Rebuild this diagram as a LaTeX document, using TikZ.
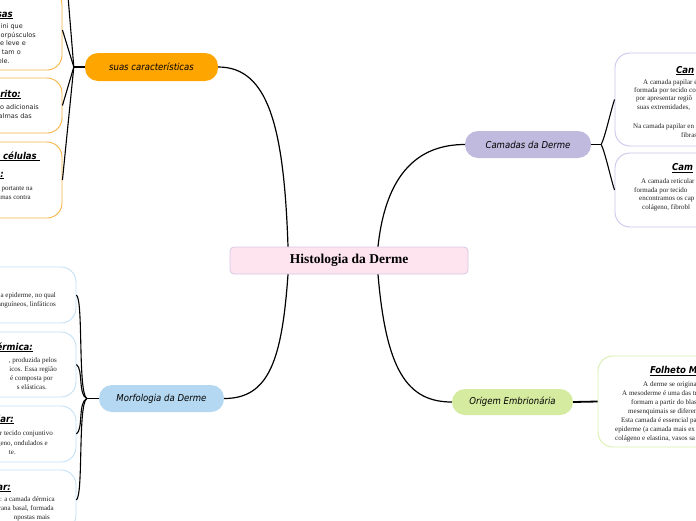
\documentclass[tikz,border=0pt]{standalone}
\usepackage{fontspec}
\setmainfont{Liberation Serif}
\newfontfamily\leafsans{DejaVu Sans}
\newfontfamily\handfont{DejaVu Sans Condensed}
\definecolor{orangeB}{HTML}{FFA500}
\definecolor{orangeL}{HTML}{F6B443}
\definecolor{lavB}{HTML}{C1BADF}
\definecolor{lavL}{HTML}{CCC6EC}
\definecolor{blueB}{HTML}{B4D8F1}
\definecolor{blueL}{HTML}{C3E1F7}
\definecolor{greenB}{HTML}{D5ECA0}
\definecolor{greenL}{HTML}{D9EFAE}
\definecolor{pinkF}{HTML}{FDE4EE}
\definecolor{pinkD}{HTML}{D7C7E5}
\definecolor{txt}{HTML}{222222}
\begin{document}
\begin{tikzpicture}[x=1pt,y=-1pt,
  pill/.style={rounded corners=13pt, inner sep=0, font=\handfont\itshape\fontsize{9.5}{10}\selectfont},
  centerbox/.style={rounded corners=4pt, fill=pinkF, draw=pinkD, line width=0.8pt, inner sep=0, minimum width=238pt, minimum height=27pt},
  leaf/.style={rounded corners=15pt, fill=white, line width=0.9pt, inner sep=0},
  mainline/.style={line width=1.2pt, black},
  stub/.style={line width=1.8pt, black},
  subline/.style={line width=1.1pt, black},
  tsans/.style={font=\leafsans\fontsize{6.5}{8}\selectfont, inner sep=0, text=txt},
  tserif/.style={font=\fontsize{7}{9}\selectfont, inner sep=0, text=txt},
  ttitle/.style={font=\handfont\bfseries\itshape\fontsize{9.5}{11}\selectfont, inner sep=0, text=black}
]
\useasboundingbox (0,0) rectangle (696,520);
\fill[white] (0,0) rectangle (696,520);
\clip (0,0) rectangle (696,520);

% ---------- leaves ----------
\node[leaf, draw=orangeL, minimum width=122pt, minimum height=80pt] (tl1) at (1,30) {};
\node[leaf, draw=orangeL, minimum width=122pt, minimum height=55pt] (tl2) at (1,105.5) {};
\node[leaf, draw=orangeL, minimum width=122pt, minimum height=76pt] (tl3) at (1,180) {};
\node[leaf, draw=lavL, minimum width=165pt, minimum height=93pt] (r1) at (697.5,99.5) {};
\node[leaf, draw=lavL, minimum width=165pt, minimum height=74pt] (r2) at (697.5,190) {};
\node[leaf, draw=greenL, minimum width=182pt, minimum height=91pt] (g1) at (689,401.5) {};
\node[leaf, draw=blueL, minimum width=136pt, minimum height=56pt] (bl1) at (8,295) {};
\node[leaf, draw=blueL, minimum width=136pt, minimum height=65pt] (bl2) at (8,364.5) {};
\node[leaf, draw=blueL, minimum width=136pt, minimum height=56pt] (bl3) at (8,434) {};
\node[leaf, draw=blueL, minimum width=136pt, minimum height=60pt] (bl4) at (8,500) {};

% ---------- central and branches ----------
\node[centerbox] (c) at (349,260.5) {\fontsize{13.5}{15}\selectfont\bfseries Histologia da Derme};
\node[pill, fill=orangeB, minimum width=133pt, minimum height=28pt] (s) at (151.5,67) {suas características};
\node[pill, fill=lavB, minimum width=126pt, minimum height=27pt] (k) at (528,144.5) {Camadas da Derme};
\node[pill, fill=blueB, minimum width=125pt, minimum height=27pt] (m) at (161.5,398.5) {Morfologia da Derme};
\node[pill, fill=greenB, minimum width=121pt, minimum height=26pt] (o) at (512.5,402) {Origem Embrionária};

% ---------- main connectors ----------
\draw[mainline] ([xshift=-61pt]c.north) .. controls +(-4,-120) and +(50,0) .. (s.east);
\draw[mainline] ([xshift=29pt]c.north) .. controls +(8,-75) and +(-45,0) .. (k.west);
\draw[mainline] ([xshift=-61pt]c.south) .. controls +(-6,85) and +(45,0) .. (m.east);
\draw[mainline] ([xshift=29pt]c.south) .. controls +(8,95) and +(-45,0) .. (o.west);

% ---------- sub connectors ----------
\coordinate (sj) at ([xshift=-11pt]s.west);
\coordinate (tl0) at (67.5,-10);
\draw[stub] (s.west) -- (sj);
\draw[subline] (sj) -- (tl0);
\draw[subline] (sj) -- (tl1.east);
\draw[subline] (sj) -- (tl2.east);
\draw[subline] (sj) -- (tl3.east);

\coordinate (kj) at ([xshift=10pt]k.east);
\draw[stub] (k.east) -- (kj);
\draw[subline] (kj) .. controls +(4,-8) and +(-4,12) .. (r1.west);
\draw[subline] (kj) .. controls +(4,8) and +(-4,-12) .. (r2.west);

\coordinate (mj) at ([xshift=-12pt]m.west);
\draw[stub] (m.west) -- (mj);
\draw[subline] (mj) .. controls +(-9,-6) and +(7,6) .. (bl1.east);
\draw[subline] (mj) .. controls +(-9,-4) and +(7,5) .. (bl2.east);
\draw[subline] (mj) .. controls +(-9,4) and +(7,-5) .. (bl3.east);
\draw[subline] (mj) .. controls +(-9,6) and +(7,-6) .. (bl4.east);

\draw[stub] (o.east) -- (g1.west);

% ---------- texts: top-left (orange) ----------
\node[ttitle, anchor=base east] (a1) at (13,17) {\underline{sas}};
\node[tsans, anchor=base east] (a2) at (23,28.5) {lini que};
\node[tsans, anchor=base east] (a3) at (36,37) {orpúsculos};
\node[tsans, anchor=base east] (a4) at (26,45.5) {e leve e};
\node[tsans, anchor=base east] (a5) at (21,54) {tam o};
\node[tsans, anchor=base east] (a6) at (10,63) {ele.};

\node[ttitle, anchor=base east] (b1) at (21,97) {\underline{rito:}};
\node[tsans, anchor=base east] (b2) at (39,109.5) {o adicionais};
\node[tsans, anchor=base east] (b3) at (32,118.5) {almas das};

\node[ttitle, anchor=base east] (d1) at (40,159) {\underline{\ células\ }};
\node[ttitle, anchor=base east] (d2) at (4,177) {\underline{:}};
\node[tserif, anchor=base east] (d3) at (33,190) {portante na};
\node[tserif, anchor=base east] (d4) at (31,199) {mas contra};

% ---------- texts: right (lavender) ----------
\node[ttitle, anchor=base west] (e1) at (676,73) {\underline{Can}};
\node[tserif, anchor=base west] (e2) at (643,84) {A camada papilar é};
\node[tserif, anchor=base west] (e3) at (634,92) {formada por tecido co};
\node[tserif, anchor=base west] (e4) at (636,100.5) {por apresentar regiõ};
\node[tserif, anchor=base west] (e5) at (637,109) {suas extremidades,};
\node[tserif, anchor=base west] (e6) at (633,128.5) {Na camada papilar en};
\node[tserif, anchor=base west] (e7) at (681,137) {fibras};

\node[ttitle, anchor=base west] (f1) at (672,170.5) {\underline{Cam}};
\node[tserif, anchor=base west] (f2) at (641,183) {A camada reticular};
\node[tserif, anchor=base west] (f3) at (634,192) {formada por tecido};
\node[tserif, anchor=base west] (f4) at (639,200) {encontramos os cap};
\node[tserif, anchor=base west] (f5) at (642,209) {colágeno, fibrobl};

% ---------- texts: right (green) ----------
\node[ttitle, anchor=base west] (h1) at (650,373.5) {\underline{Folheto M}};
\node[tserif, anchor=base west] (h2) at (643,386) {A derme se origina};
\node[tserif, anchor=base west] (h3) at (622,395) {A mesoderme é uma das tr};
\node[tserif, anchor=base west] (h4) at (631,404) {formam a partir do blas};
\node[tserif, anchor=base west] (h5) at (628,413) {mesenquimais se diferen};
\node[tserif, anchor=base west] (h6) at (621,422) {Esta camada é essencial pa};
\node[tserif, anchor=base west] (h7) at (615,431) {epiderme (a camada mais ex};
\node[tserif, anchor=base west] (h8) at (615,440) {colágeno e elastina, vasos sa};

% ---------- texts: bottom-left (blue) ----------
\node[tserif, anchor=base east] (i1) at (56,297) {a epiderme, no qual};
\node[tserif, anchor=base east] (i2) at (56,306) {anguíneos, linfáticos};

\node[ttitle, anchor=base east] (j1) at (33,350) {\underline{érmica:}};
\node[tserif, anchor=base east] (j2) at (57,362) {, produzida pelos};
\node[tserif, anchor=base east] (j3) at (57,371) {icos. Essa região};
\node[tserif, anchor=base east] (j4) at (53,380) {é composta por};
\node[tserif, anchor=base east] (j5) at (47,389) {s elásticas.};

\node[ttitle, anchor=base east] (l1) at (14,422) {\underline{lar:}};
\node[tserif, anchor=base east] (l2) at (53,435) {r tecido conjuntivo};
\node[tserif, anchor=base east] (l3) at (48,445) {geno, ondulados e};
\node[tserif, anchor=base east] (l4) at (16,454) {te.};

\node[ttitle, anchor=base east] (n1) at (11,490) {\underline{ar:}};
\node[tserif, anchor=base east] (n2) at (55,501) {: a camada dérmica};
\node[tserif, anchor=base east] (n3) at (54,510) {rana basal, formada};
\node[tserif, anchor=base east] (n4) at (50,519) {npostas mais};
\end{tikzpicture}
\end{document}
